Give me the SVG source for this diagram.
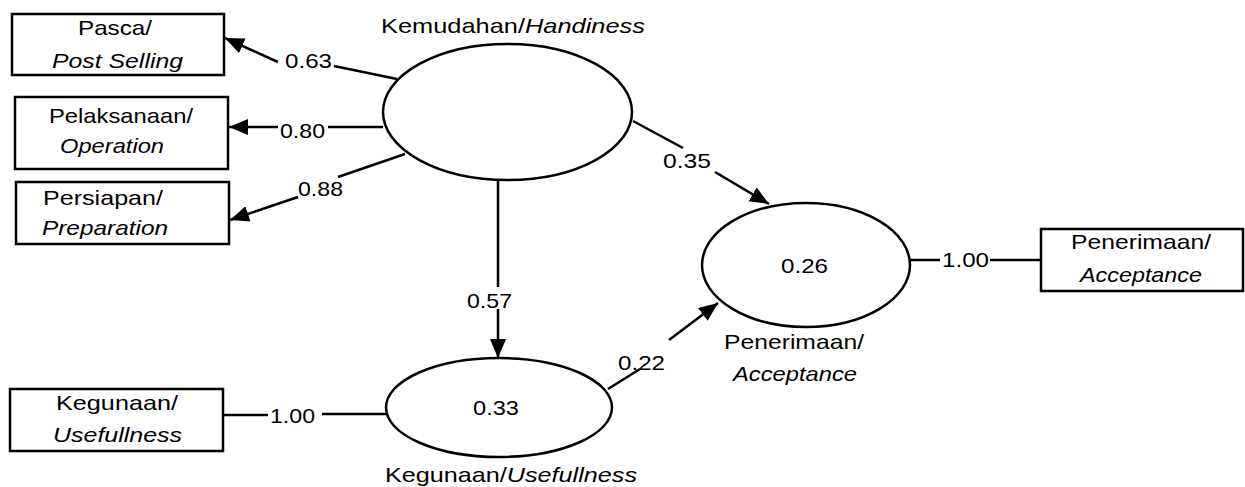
<svg xmlns="http://www.w3.org/2000/svg" width="1245" height="487" viewBox="0 0 1245 487">
<style>
text{font-family:"Liberation Sans",Arial,sans-serif;font-size:21px;fill:#000}
.i{font-style:italic}
.box{fill:#fff;stroke:#000;stroke-width:2.5}
.ell{fill:#fff;stroke:#000;stroke-width:2.5}
.ln{stroke:#000;stroke-width:2.5;fill:none}
</style>
<defs>
<marker id="ah" markerUnits="userSpaceOnUse" markerWidth="22" markerHeight="18" refX="19" refY="8" orient="auto">
<path d="M0,0 L19,8 L0,16 z" fill="#000"/>
</marker>
</defs>
<rect width="1245" height="487" fill="#fff"/>
<g id="connectors">
<line class="ln" x1="397" y1="79" x2="334" y2="66"/>
<line class="ln" x1="278" y1="62" x2="225" y2="38" marker-end="url(#ah)"/>
<text x="285" y="68" textLength="47" lengthAdjust="spacingAndGlyphs">0.63</text>
<line class="ln" x1="383" y1="127" x2="328" y2="127"/>
<line class="ln" x1="278" y1="127" x2="229" y2="127" marker-end="url(#ah)"/>
<text x="280" y="138" textLength="45" lengthAdjust="spacingAndGlyphs">0.80</text>
<line class="ln" x1="405" y1="154" x2="338" y2="177"/>
<line class="ln" x1="298" y1="197" x2="230" y2="220" marker-end="url(#ah)"/>
<text x="298" y="196" textLength="45" lengthAdjust="spacingAndGlyphs">0.88</text>
<line class="ln" x1="498" y1="180" x2="498" y2="287"/>
<line class="ln" x1="498" y1="309" x2="498" y2="358" marker-end="url(#ah)"/>
<text x="467" y="308" textLength="45" lengthAdjust="spacingAndGlyphs">0.57</text>
<line class="ln" x1="633" y1="121" x2="683" y2="148"/>
<line class="ln" x1="715" y1="172" x2="769" y2="204" marker-end="url(#ah)"/>
<text x="663" y="168" textLength="48" lengthAdjust="spacingAndGlyphs">0.35</text>
<line class="ln" x1="608" y1="389" x2="640" y2="369"/>
<line class="ln" x1="669" y1="340" x2="718" y2="303" marker-end="url(#ah)"/>
<text x="618" y="370" textLength="47" lengthAdjust="spacingAndGlyphs">0.22</text>
<line class="ln" x1="910" y1="260" x2="940" y2="260"/>
<line class="ln" x1="990" y1="260" x2="1041" y2="260"/>
<text x="942" y="267" textLength="47" lengthAdjust="spacingAndGlyphs">1.00</text>
<line class="ln" x1="223" y1="415" x2="268" y2="415"/>
<line class="ln" x1="322" y1="414" x2="387" y2="414"/>
<text x="270" y="423" textLength="45" lengthAdjust="spacingAndGlyphs">1.00</text>
</g>
<g id="pasca">
<rect class="box" x="12" y="14" width="212" height="61"/>
<text x="78" y="35" textLength="74" lengthAdjust="spacingAndGlyphs">Pasca/</text>
<text class="i" x="52" y="68" textLength="131" lengthAdjust="spacingAndGlyphs">Post Selling</text>
</g>
<g id="pelaksanaan">
<rect class="box" x="15" y="97" width="213" height="72"/>
<text x="49" y="123" textLength="144" lengthAdjust="spacingAndGlyphs">Pelaksanaan/</text>
<text class="i" x="60" y="153" textLength="104" lengthAdjust="spacingAndGlyphs">Operation</text>
</g>
<g id="persiapan">
<rect class="box" x="16" y="182" width="213" height="62"/>
<text x="43" y="205" textLength="120" lengthAdjust="spacingAndGlyphs">Persiapan/</text>
<text class="i" x="42" y="235" textLength="126" lengthAdjust="spacingAndGlyphs">Preparation</text>
</g>
<g id="kemudahan">
<ellipse class="ell" cx="507.5" cy="112" rx="124.5" ry="68"/>
<text x="381" y="33" textLength="264" lengthAdjust="spacingAndGlyphs">Kemudahan/<tspan class="i">Handiness</tspan></text>
</g>
<g id="penerimaan">
<ellipse class="ell" cx="806" cy="265" rx="104" ry="62"/>
<text x="781" y="273" textLength="47" lengthAdjust="spacingAndGlyphs">0.26</text>
<text x="724" y="349" textLength="140" lengthAdjust="spacingAndGlyphs">Penerimaan/</text>
<text class="i" x="733" y="381" textLength="124" lengthAdjust="spacingAndGlyphs">Acceptance</text>
</g>
<g id="penerimaan-box">
<rect class="box" x="1041" y="229" width="202" height="62"/>
<text x="1071" y="249" textLength="140" lengthAdjust="spacingAndGlyphs">Penerimaan/</text>
<text class="i" x="1080" y="282" textLength="122" lengthAdjust="spacingAndGlyphs">Acceptance</text>
</g>
<g id="kegunaan">
<ellipse class="ell" cx="499" cy="407.5" rx="113" ry="49.5"/>
<text x="473" y="415" textLength="46" lengthAdjust="spacingAndGlyphs">0.33</text>
<text x="385" y="482" textLength="252" lengthAdjust="spacingAndGlyphs">Kegunaan/<tspan class="i">Usefullness</tspan></text>
</g>
<g id="kegunaan-box">
<rect class="box" x="10" y="389" width="213" height="62"/>
<text x="56" y="410" textLength="122" lengthAdjust="spacingAndGlyphs">Kegunaan/</text>
<text class="i" x="53" y="442" textLength="129" lengthAdjust="spacingAndGlyphs">Usefullness</text>
</g>
</svg>
